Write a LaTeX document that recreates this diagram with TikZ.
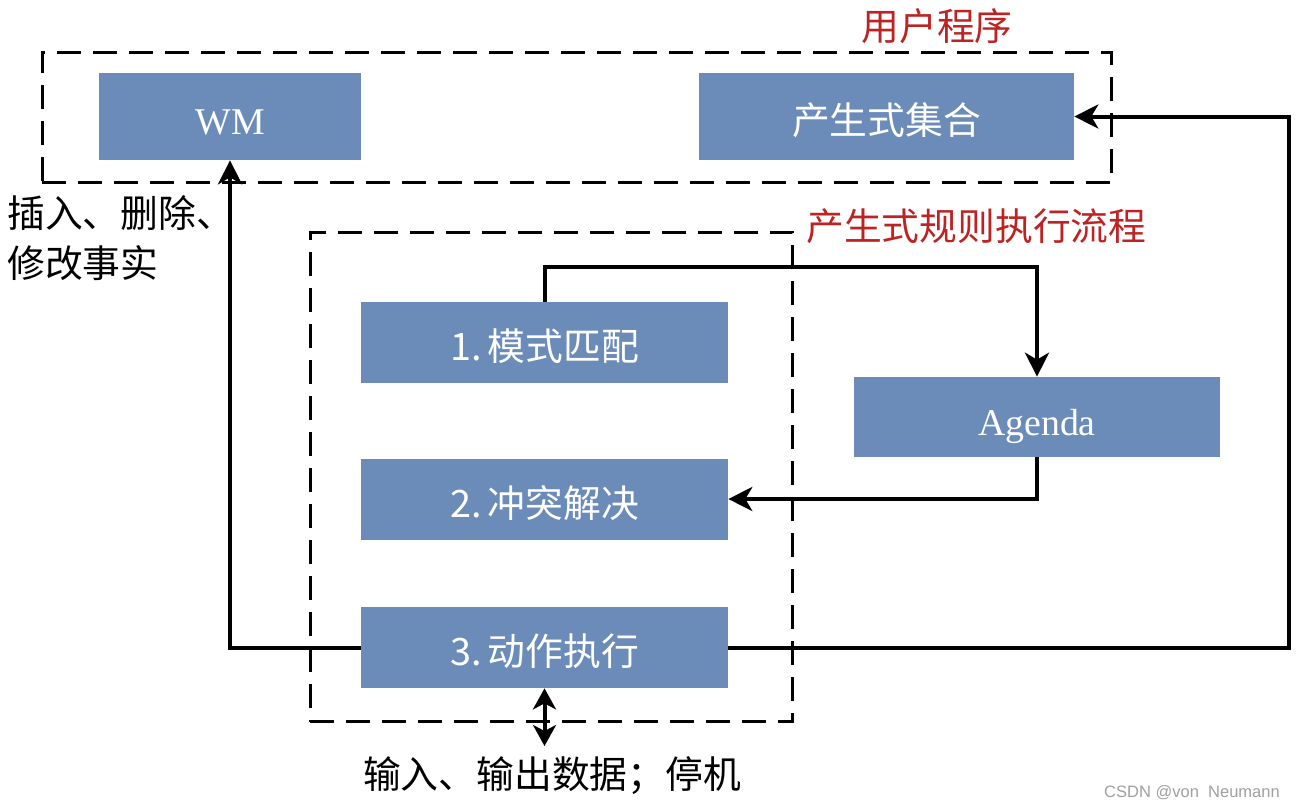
\documentclass[tikz,border=0pt]{standalone}
\usepackage{fontspec}
\setmainfont{Liberation Serif}
\newfontfamily\cjk{Noto Sans CJK SC}
\newfontfamily\marksans{Liberation Sans}
\usetikzlibrary{arrows.meta, positioning, calc}
\definecolor{boxblue}{RGB}{107,140,185}
\definecolor{titlered}{RGB}{190,35,35}
\tikzstyle{block} = [rectangle, minimum width=7.34cm, minimum height=1.62cm, inner sep=0pt, text centered, text height=23.6pt, text depth=2.6pt, fill=boxblue, text=white, font=\cjk\fontsize{21.5}{24}\selectfont]
\tikzstyle{group} = [rectangle, inner sep=0pt, draw=black, line width=0.06cm, dash pattern=on 0.48cm off 0.24cm]
\tikzstyle{title} = [inner sep=0pt, text=titlered, font=\cjk\fontsize{21.5}{24}\selectfont]
\tikzstyle{note} = [inner sep=0pt, align=left, font=\cjk\fontsize{21.5}{28.5}\selectfont]
\tikzstyle{arrow} = [line width=0.08cm, -{Stealth[length=0.48cm, width=0.48cm, inset=0.14cm]}]
\tikzstyle{dblarrow} = [line width=0.08cm, {Stealth[length=0.42cm, width=0.46cm, inset=0.12cm]}-{Stealth[length=0.42cm, width=0.46cm, inset=0.12cm]}]

\begin{document}
\begin{tikzpicture}[x=0.02cm, y=-0.02cm]
\useasboundingbox (0,0) rectangle (1301,809);
% user program
\node (user) [group, minimum width=21.4cm, minimum height=2.62cm] at (577,117.5) {};
\node (usertitle) [title] at (937,26) {用户程序};
\node (wm) [block, minimum width=5.24cm, minimum height=1.74cm, font=\fontsize{21.5}{24}\selectfont] at (230,116.5) {WM};
\node (rules) [block, minimum width=7.5cm, minimum height=1.74cm] at (886.5,116.5) {产生式集合};
% rule execution
\node (flow) [group, minimum width=9.66cm, minimum height=9.8cm] at (551.5,477) {};
\node (flowtitle) [title, anchor=west] at (806,226) {产生式规则执行流程};
\node (match) [block] at (544.5,342.5) {1.\,模式匹配};
\node (agenda) [block, minimum width=7.32cm, minimum height=1.6cm, font=\fontsize{21.5}{24}\selectfont] at (1037,417) {Agenda};
\node (resolve) [block] at (544.5,499) {2.\,冲突解决};
\node (act) [block] at (544.5,647.5) {3.\,动作执行};
\coordinate (io) at (544.5,746);
% labels
\node (factnote) [note, anchor=north west] at (7,195) {插入、删除、\\修改事实};
\node (ionote) [note] at (552,776) {输入、输出数据；停机};
\node (mark) [anchor=east, text=gray!75, font=\marksans\fontsize{9.4}{11}\selectfont] at (1286,793) {CSDN @von\ \ Neumann};
% connectors
\draw[arrow] (match.north) -- ++(0,-35) -| (agenda.north);
\draw[arrow] (agenda.south) |- (resolve.east);
\draw[arrow] (act.west) -| (wm.south);
\draw[arrow] (act.east) -- ++(561,0) |- (rules.east);
\draw[dblarrow] (act.south) -- (io);
\end{tikzpicture}
\end{document}
